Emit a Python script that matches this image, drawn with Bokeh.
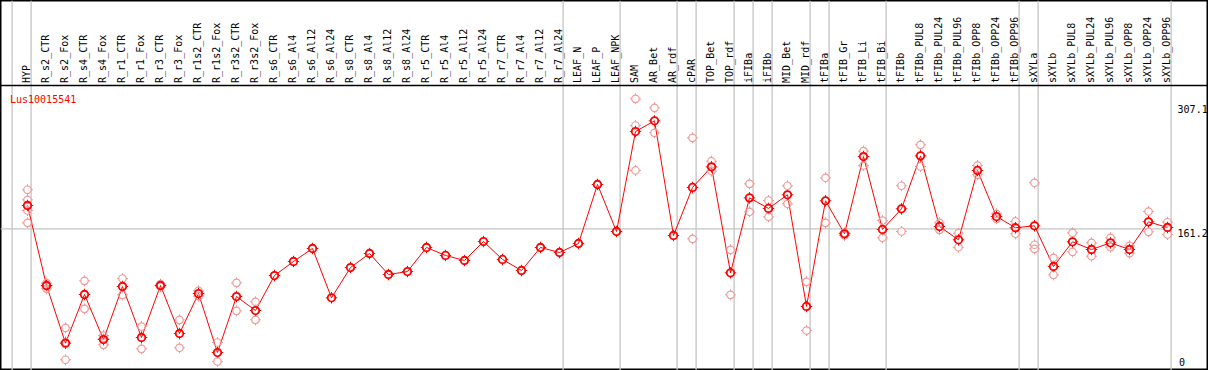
import math
from bokeh.plotting import figure
from bokeh.models import Range1d, Span
from bokeh.core.properties import value
from bokeh.embed import file_html
from bokeh.resources import INLINE

gene = "Lus10015541"

categories = [
    "HYP", "R_s2_CTR", "R_s2_Fox", "R_s4_CTR", "R_s4_Fox", "R_r1_CTR", "R_r1_Fox",
    "R_r3_CTR", "R_r3_Fox", "R_r1s2_CTR", "R_r1s2_Fox", "R_r3s2_CTR", "R_r3s2_Fox",
    "R_s6_CTR", "R_s6_Al4", "R_s6_Al12", "R_s6_Al24",
    "R_s8_CTR", "R_s8_Al4", "R_s8_Al12", "R_s8_Al24",
    "R_r5_CTR", "R_r5_Al4", "R_r5_Al12", "R_r5_Al24",
    "R_r7_CTR", "R_r7_Al4", "R_r7_Al12", "R_r7_Al24",
    "LEAF_N", "LEAF_P", "LEAF_NPK", "SAM", "AR_Bet", "AR_rdf", "cPAR",
    "TOP_Bet", "TOP_rdf", "iFIBa", "iFIBb", "MID_Bet", "MID_rdf",
    "tFIBa", "tFIB_Gr", "tFIB_Li", "tFIB_Bi",
    "tFIBb", "tFIBb_PUL8", "tFIBb_PUL24", "tFIBb_PUL96", "tFIBb_OPP8", "tFIBb_OPP24", "tFIBb_OPP96",
    "sXYLa", "sXYLb", "sXYLb_PUL8", "sXYLb_PUL24", "sXYLb_PUL96", "sXYLb_OPP8", "sXYLb_OPP24", "sXYLb_OPP96",
]

means = [
    188.6, 94.5, 26.6, 83.9, 30.9, 93.3, 33.3, 94.5, 38.0, 85.0, 15.6, 81.5, 65.0,
    106.2, 122.7, 138.0, 80.0, 115.6, 132.1, 107.4, 110.9,
    139.2, 129.8, 123.9, 146.2, 125.1, 112.1, 139.2, 133.3,
    143.9, 213.3, 158.0, 275.6, 288.2, 153.3, 209.8,
    234.1, 109.4, 197.6, 185.1, 201.2, 69.8,
    194.1, 155.3, 246.2, 160.4,
    184.7, 247.0, 163.9, 148.2, 229.8, 175.6, 162.4,
    164.7, 116.8, 145.9, 136.8, 144.7, 136.8, 169.4, 162.7,
]

replicates = [
    [207.1, 195.3, 182.7, 168.2], [97.2, 93.5, 90.6], [44.7, 28.0, 7.1], [100.0, 67.0],
    [35.6, 32.0, 24.7], [102.7, 83.5], [46.2, 20.0], [96.0, 93.0], [54.1, 21.2],
    [88.2, 81.9], [27.4, 5.1], [97.6, 64.7], [75.3, 54.1],
    [], [], [], [], [], [], [], [],
    [], [], [], [], [], [], [], [],
    [], [], [], [314.1, 282.7, 229.8], [303.5, 274.1], [], [268.2, 149.4],
    [240.7, 229.0], [136.5, 83.5], [214.1, 181.2], [194.5, 175.3], [211.8, 190.6], [98.8, 41.5],
    [221.2, 168.2], [156.5, 153.3], [252.5, 235.6], [170.9, 150.6],
    [211.8, 158.0], [260.0, 234.5], [168.2, 160.0], [156.0, 139.5], [235.6, 224.7], [178.8, 172.9], [169.8, 155.3],
    [215.3, 142.4, 137.6], [127.0, 107.0], [156.5, 134.1], [144.7, 128.9], [150.6, 139.5],
    [141.2, 132.5], [181.5, 157.6], [168.9, 154.5],
]

# indices after which a grey group separator is drawn
group_ends = [-1, 0, 28, 31, 34, 35, 37, 38, 39, 41, 42, 45, 52, 53, 60]
ref_line = 161.2
scale_labels = ["307.1", "161.2", "0"]
scale_values = [307.1, 161.2, 0.0]

# layout (19 px per category, 0.85 px per unit)
W, H = 1208, 370
X_MIN = -27 / 19
X_MAX = X_MIN + W / 19
Y_MIN = -(H - 365.3) / 0.85
Y_MAX = 365.3 / 0.85
PLOT_TOP = (365.3 - 85) / 0.85
SEP_OFF = 0.19

p = figure(width=W, height=H, x_range=Range1d(X_MIN, X_MAX), y_range=Range1d(Y_MIN, Y_MAX),
           output_backend="svg", toolbar_location=None, min_border=0)
p.axis.visible = False
p.grid.visible = False
p.outline_line_color = "black"
p.outline_line_width = 2
p.background_fill_color = "white"

for g in group_ends:
    p.add_layout(Span(location=g + SEP_OFF, dimension="height", line_color="#c4c4c4",
                      line_width=1.3, level="underlay"))

p.segment(x0=[X_MIN], y0=[ref_line], x1=[group_ends[-1] + SEP_OFF], y1=[ref_line],
          line_color="#c4c4c4", line_width=1.3)

p.add_layout(Span(location=PLOT_TOP, dimension="width", line_color="black", line_width=1.5))

xs = list(range(len(categories)))
rx, ry = [], []
for i, reps in enumerate(replicates):
    for v in reps:
        rx.append(i)
        ry.append(v)

rep_col = "#f09a9a"
p.scatter(rx, ry, marker="cross", size=11, line_color=rep_col, line_width=1)
p.scatter(rx, ry, marker="circle", size=7, fill_color="white", line_color=None)
p.scatter(xs, means, marker="cross", size=11.5, line_color="red", line_width=1)
p.scatter(xs, means, marker="circle", size=7, fill_color="white", line_color=None)
p.line(xs, means, line_color="red", line_width=1)
p.scatter(rx, ry, marker="circle", size=7.5, fill_color=None, line_color=rep_col, line_width=1.2)
p.scatter(xs, means, marker="circle", size=7.5, fill_color=None, line_color="red", line_width=1.8)

# category labels (vertical)
p.text(x=xs, y=[PLOT_TOP + 3] * len(xs), text=categories, angle=math.pi / 2,
       text_align="left", text_baseline="middle", x_offset=-1,
       text_font=value("DejaVu Sans Mono"), text_font_size="10px", text_color="black")

# gene name
p.text(x=[X_MIN + 0.5], y=[PLOT_TOP - 10.5], text=[gene], text_align="left", text_baseline="top",
       text_font=value("DejaVu Sans Mono"), text_font_size="10px", text_color="red")

# scale labels at right
p.text(x=[60.53] * 2, y=scale_values[:2], text=scale_labels[:2], text_align="left", text_baseline="top",
       text_font=value("DejaVu Sans Mono"), text_font_size="10px", text_color="black")
p.text(x=[60.6], y=[scale_values[2]], text=[scale_labels[2]], text_align="left", text_baseline="bottom",
       text_font=value("DejaVu Sans Mono"), text_font_size="10px", text_color="black")

open("out.html", "w").write(file_html(p, INLINE))
